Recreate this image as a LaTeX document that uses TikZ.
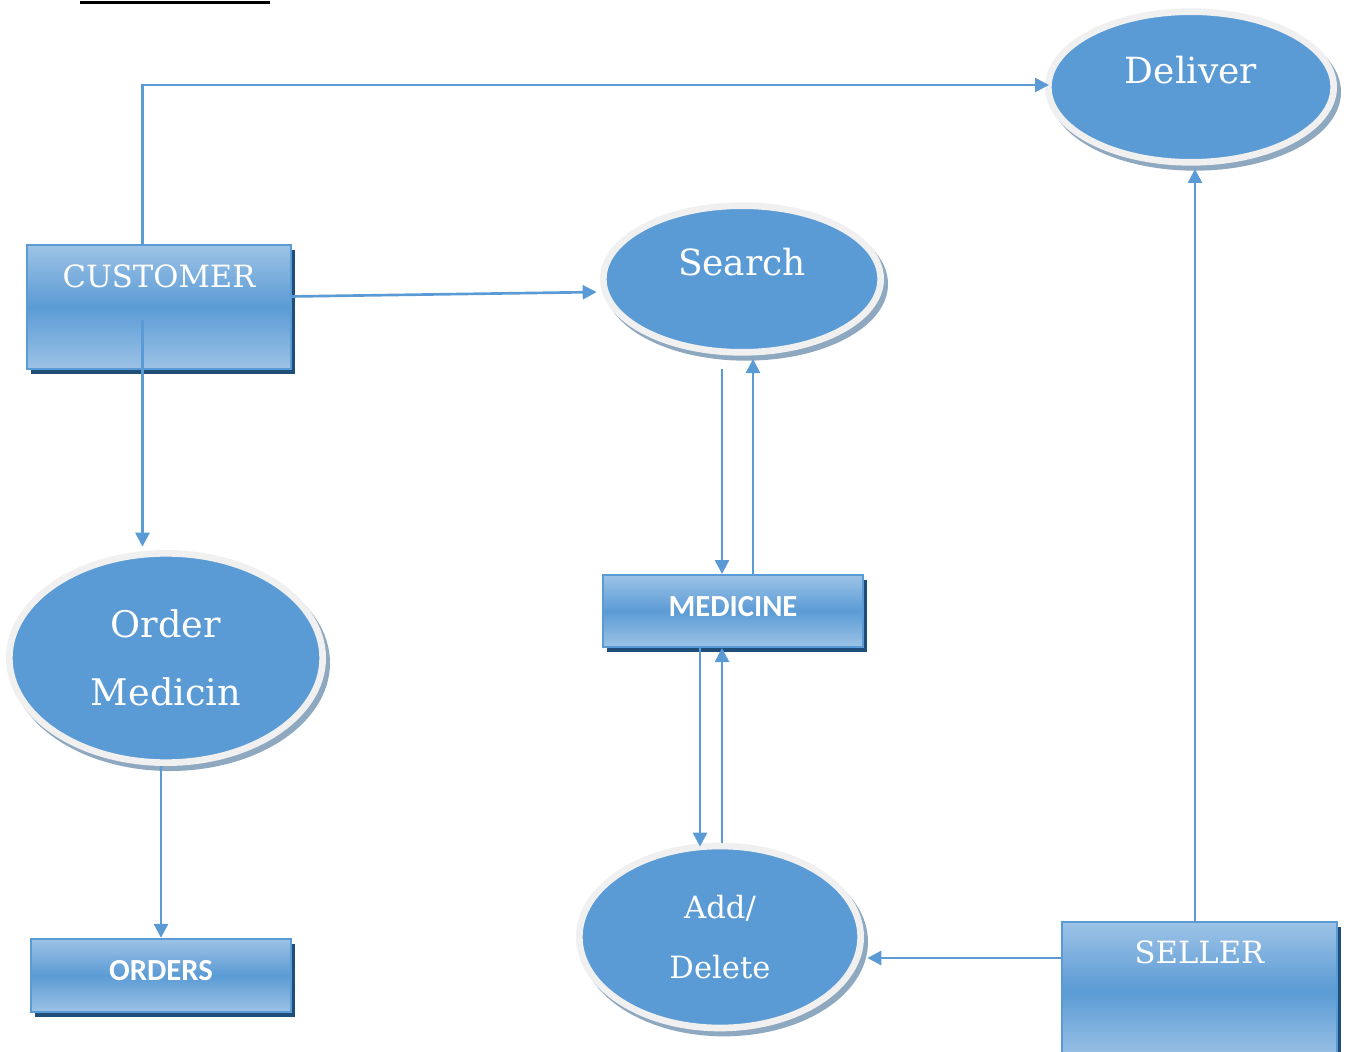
\documentclass[tikz,border=0pt]{standalone}
\usepackage{fontspec}
\setmainfont{DejaVu Serif}
\newfontfamily\boldsans{Carlito}
\usepackage{tikz}
\usetikzlibrary{shapes,arrows.meta,positioning,calc,shadows}
\definecolor{flowblue}{HTML}{5B9BD5}
\definecolor{paleblue}{HTML}{9DC3E6}
\definecolor{navyshadow}{HTML}{1F4E79}
\definecolor{ringgray}{HTML}{F0F0F0}
\definecolor{greyshadow}{HTML}{8EA8C0}
\tikzset{
block/.style = {draw=flowblue, line width=1.5pt, rectangle, align=center, text=white, top color=paleblue, bottom color=paleblue, middle color=flowblue, drop shadow={shadow xshift=3pt, shadow yshift=-3.75pt, fill=navyshadow, opacity=1}, font=\fontsize{23pt}{27pt}\selectfont},
store/.style = {block, text depth=7pt, font=\boldsans\bfseries\fontsize{23pt}{27pt}\selectfont},
process/.style = {draw=ringgray, line width=5pt, fill=flowblue, ellipse, align=center, text=white, general shadow={shadow xshift=3pt, shadow yshift=-3.75pt, fill=greyshadow, draw=greyshadow, line width=5pt}, font=\fontsize{27pt}{32pt}\selectfont},
flow/.style = {draw=flowblue, line width=2pt, ->},
toring/.style = {flow, shorten >=2.5pt},
intoring/.style = {flow, shorten >=-3pt},
}
\begin{document}
\begin{tikzpicture}[x=0.75pt, y=-0.75pt, >={Triangle[length=10.5pt,width=10.5pt]}]
\useasboundingbox (0,0) rectangle (1349,1052);
\draw[line width=2.25pt] (80,3) -- (270,3);
\node[block, minimum width=198pt, minimum height=93pt, text depth=46.5pt] (customer) at (159,307) {CUSTOMER};
\node[process, minimum width=208pt, minimum height=110pt, text depth=25.5pt] (search) at (742,279) {Search};
\node[process, minimum width=214pt, minimum height=113pt, text depth=25.5pt] (deliver) at (1191,87) {Deliver};
\node[process, minimum width=235pt, minimum height=157pt, font=\fontsize{27.5pt}{51pt}\selectfont] (order) at (166,658) {Order\\Medicin};
\node[store, minimum width=195pt, minimum height=54pt] (medicine) at (733,611) {MEDICINE};
\node[process, minimum width=211pt, minimum height=136.5pt, font=\fontsize{23pt}{45pt}\selectfont] (adddel) at (720,937) {Add/\\Delete};
\node[store, minimum width=195pt, minimum height=55pt] (orders) at (161,975.5) {ORDERS};
\node[block, minimum width=206pt, minimum height=103.5pt, text depth=58.5pt] (seller) at (1199.5,991) {SELLER};
\coordinate (custup) at ([xshift=-12.4pt]customer.north);
\coordinate (custdown) at ([xshift=-12.4pt,yshift=-10pt]customer.center);
\coordinate (medin) at ([xshift=-8.25pt]medicine.north);
\coordinate (medout) at ([xshift=15pt]medicine.north);
\coordinate (delout) at ([xshift=-24.75pt]medicine.south);
\coordinate (delin) at ([xshift=-8.25pt]medicine.south);
\coordinate (sellleft) at ([yshift=24.75pt]seller.west);
\coordinate (sellup) at ([xshift=-3.4pt]seller.north);
\draw[intoring] (custup) |- ([yshift=1.5pt]deliver.west);
\draw[toring] ([yshift=7.9pt]customer.east) -- ([yshift=-9.75pt]search.west);
\draw[toring] (custdown) -- (custdown |- order.north);
\draw[flow] (order.south -| orders.north) -- (orders.north);
\draw[flow, shorten <=10pt] (medin |- search.south) -- (medin);
\draw[toring] (medout) -- (medout |- search.south);
\draw[intoring] (delout) -- (delout |- adddel.north);
\draw[flow] (delin |- adddel.north) -- (delin);
\draw[toring] (sellleft) -- (sellleft -| adddel.east);
\draw[toring] (sellup) -- (sellup |- deliver.south);
\end{tikzpicture}
\end{document}
